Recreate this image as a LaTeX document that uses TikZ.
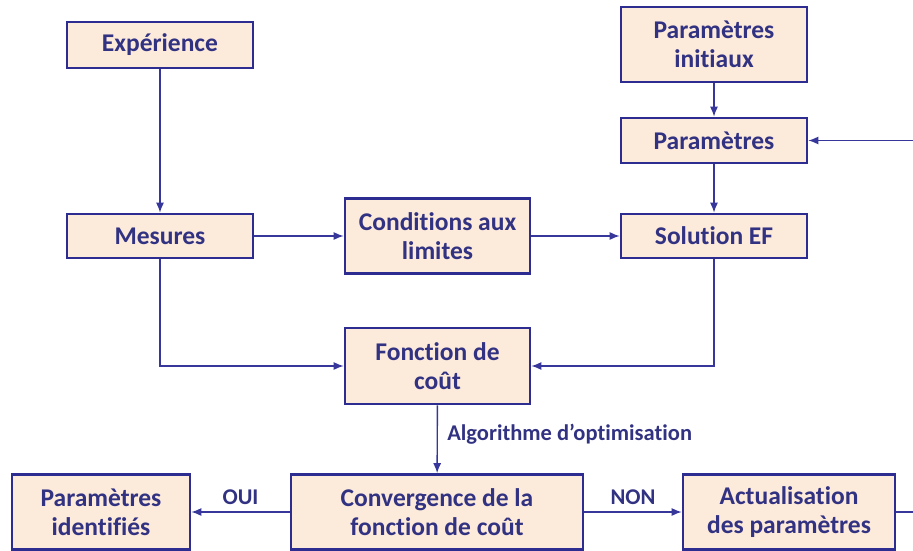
\documentclass[tikz,border=0pt]{standalone}
\usepackage{fontspec}
\setmainfont{Carlito}[Ligatures=NoCommon]
\usetikzlibrary{arrows.meta}
\definecolor{boxBlue}{RGB}{45,45,145}
\definecolor{txtBlue}{RGB}{50,50,130}
\definecolor{lineBlue}{RGB}{55,55,155}
\definecolor{boxFill}{RGB}{252,234,218}
\tikzset{
  bloc/.style={draw=boxBlue,line width=2.6pt,fill=boxFill,text=txtBlue,
    font=\fontsize{25.5}{29}\selectfont\bfseries,align=center,inner sep=0pt,
    minimum width=186pt},
  fleche/.style={lineBlue,line width=1.4pt,-{Latex[length=10pt,width=8pt]}},
  lien/.style={lineBlue,line width=1.4pt},
  etiq/.style={text=txtBlue,font=\fontsize{22.5}{24}\selectfont\bfseries}
}
\begin{document}
\begin{tikzpicture}[x=1pt,y=-1pt]
  \useasboundingbox (0,0) rectangle (913,551);
  % colonne gauche
  \node[bloc,minimum height=46pt] (exp) at (160,45) {Expérience};
  \node[bloc,minimum height=44pt] (mes) at (160,236) {Mesures};
  % colonne centrale
  \node[bloc,minimum width=185pt,minimum height=75pt] (cond) at (437.5,236)
    {Conditions aux\\limites};
  \node[bloc,minimum width=185pt,minimum height=76pt] (fonc) at (437.5,366)
    {Fonction de\\coût};
  % colonne droite
  \node[bloc,minimum height=75pt] (pinit) at (714,44.5) {Paramètres\\initiaux};
  \node[bloc,minimum height=45pt] (param) at (714,140.5) {Paramètres};
  \node[bloc,minimum height=44pt] (sol) at (714,236) {Solution EF};
  % ligne du bas
  \node[bloc,minimum width=292pt,minimum height=75pt] (conv) at (437,512)
    {Convergence de la\\fonction de coût};
  \node[bloc,minimum width=178pt,minimum height=75pt] (pid) at (101,512)
    {Paramètres\\identifiés};
  \node[bloc,minimum width=212pt,minimum height=75pt] (act) at (789,512)
    {Actualisation\\des paramètres};
  \coordinate (bordH) at (913,140.5);
  \coordinate (bordB) at (913,512);

  \draw[fleche] (exp) -- (mes);
  \draw[fleche] (mes) -- (cond);
  \draw[fleche] (cond) -- (sol);
  \draw[fleche] (pinit) -- (param);
  \draw[fleche] (param) -- (sol);
  \draw[fleche] (mes.south) |- (fonc.west);
  \draw[fleche] (sol.south) |- (fonc.east);
  \draw[fleche] (fonc) -- (conv)
    node[pos=0.42,right=6pt,etiq]{Algorithme d’optimisation};
  \draw[fleche] (conv) -- (pid) node[midway,above=3pt,etiq]{OUI};
  \draw[fleche] (conv) -- (act) node[midway,above=3pt,etiq]{NON};
  \draw[lien] (act) -- (bordB);
  \draw[fleche] (bordH) -- (param);
\end{tikzpicture}
\end{document}
